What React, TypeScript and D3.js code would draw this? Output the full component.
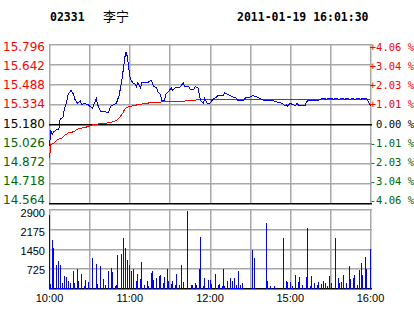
import React from 'react';
import * as d3 from 'd3';

const stockCode = '02331';
const stockName = '李宁';
const stamp = '2011-01-19 16:01:30';

const priceTicks = [15.796, 15.642, 15.488, 15.334, 15.18, 15.026, 14.872, 14.718, 14.564];
const priceTickLabels = ['15.796', '15.642', '15.488', '15.334', '15.180', '15.026', '14.872', '14.718', '14.564'];
const pctTickLabels = ['+4.06 %', '+3.04 %', '+2.03 %', '+1.01 %', '0.00 %', '-1.01 %', '-2.03 %', '-3.04 %', '-4.06 %'];
const volTicks = [2900, 2175, 1450, 725];
const timeTickMinutes = [0, 60, 120, 180, 240];
const timeTickLabels = ['10:00', '11:00', '12:00', '15:00', '16:00'];
const gridMinutes = [0, 30, 60, 90, 120, 150, 180, 210, 240];
const prevClose = 15.18;

const priceMinutes = [0, 1, 2, 3, 6, 7, 8, 10, 11, 13, 14, 16, 18, 19, 21, 23, 24, 26, 29, 30, 32, 34, 35, 36, 38, 44, 46, 48, 50, 52, 54, 55, 56, 57, 58, 59, 60, 61, 63, 64, 65, 66, 68, 69, 73, 75, 76, 78, 80, 81, 83, 84, 86, 87, 89, 91, 92, 94, 96, 98, 100, 101, 104, 105, 108, 109, 111, 112, 113, 115, 116, 118, 120, 122, 125, 126, 130, 131, 133, 135, 137, 140, 141, 145, 146, 150, 152, 155, 157, 159, 161, 167, 170, 174, 176, 177, 178, 180, 182, 184, 185, 187, 191, 192, 193, 201, 202, 205, 207, 208, 211, 212, 214, 217, 218, 221, 222, 225, 226, 229, 230, 233, 234, 237, 238, 239, 240];
const priceValues = [15.01, 15.13, 15.10, 15.12, 15.14, 15.14, 15.22, 15.23, 15.29, 15.36, 15.41, 15.44, 15.41, 15.37, 15.34, 15.36, 15.33, 15.34, 15.33, 15.32, 15.30, 15.35, 15.38, 15.33, 15.28, 15.27, 15.32, 15.33, 15.34, 15.40, 15.51, 15.59, 15.67, 15.74, 15.71, 15.64, 15.55, 15.52, 15.49, 15.49, 15.47, 15.50, 15.46, 15.50, 15.50, 15.51, 15.52, 15.47, 15.46, 15.43, 15.41, 15.36, 15.36, 15.41, 15.43, 15.46, 15.44, 15.46, 15.46, 15.47, 15.50, 15.47, 15.47, 15.45, 15.45, 15.47, 15.46, 15.41, 15.36, 15.34, 15.38, 15.34, 15.34, 15.37, 15.39, 15.40, 15.40, 15.42, 15.41, 15.40, 15.39, 15.38, 15.36, 15.36, 15.38, 15.39, 15.40, 15.39, 15.38, 15.37, 15.36, 15.36, 15.35, 15.34, 15.32, 15.33, 15.32, 15.34, 15.33, 15.32, 15.34, 15.32, 15.32, 15.35, 15.36, 15.36, 15.37, 15.38, 15.37, 15.38, 15.38, 15.37, 15.38, 15.37, 15.38, 15.37, 15.38, 15.37, 15.38, 15.37, 15.38, 15.37, 15.38, 15.38, 15.36, 15.34, 15.32];

const avgMinutes = [0, 1, 3, 4, 6, 9, 11, 14, 18, 21, 25, 29, 31, 34, 39, 44, 49, 51, 53, 55, 56, 58, 61, 65, 70, 75, 85, 100, 108, 113, 240];
const avgValues = [14.92, 15.02, 15.03, 15.04, 15.06, 15.07, 15.09, 15.11, 15.12, 15.14, 15.15, 15.16, 15.17, 15.176, 15.184, 15.189, 15.202, 15.215, 15.24, 15.267, 15.292, 15.31, 15.318, 15.327, 15.337, 15.344, 15.352, 15.357, 15.364, 15.37, 15.372];

const volMinutes = [0, 1, 2, 3, 5, 7, 8, 10, 11, 13, 14, 16, 18, 19, 21, 22, 24, 26, 27, 29, 32, 35, 36, 38, 40, 42, 44, 46, 47, 49, 50, 51, 54, 55, 57, 58, 60, 61, 63, 65, 66, 68, 69, 71, 73, 74, 76, 77, 78, 80, 82, 83, 85, 86, 88, 89, 91, 92, 94, 95, 97, 99, 100, 103, 106, 107, 109, 110, 112, 113, 115, 116, 119, 120, 121, 124, 126, 127, 129, 130, 131, 133, 135, 137, 138, 140, 141, 143, 144, 152, 153, 162, 163, 165, 168, 175, 177, 178, 180, 182, 184, 186, 187, 189, 192, 193, 195, 196, 198, 200, 201, 203, 205, 206, 208, 209, 211, 214, 216, 217, 218, 220, 222, 224, 225, 227, 228, 230, 232, 233, 234, 236, 237, 240];
const volValues = [2680, 150, 1770, 1500, 880, 1000, 860, 190, 460, 410, 270, 190, 640, 190, 710, 270, 530, 90, 310, 240, 1110, 890, 170, 820, 350, 130, 640, 750, 600, 90, 130, 1220, 1260, 1840, 1480, 1040, 860, 640, 710, 270, 530, 350, 970, 130, 270, 90, 570, 640, 310, 380, 460, 490, 200, 420, 710, 270, 160, 270, 130, 530, 130, 860, 240, 2830, 130, 130, 200, 130, 710, 1880, 90, 380, 310, 310, 160, 530, 130, 160, 90, 710, 90, 270, 380, 270, 380, 130, 640, 130, 200, 1400, 1110, 2390, 270, 90, 90, 1840, 270, 240, 240, 90, 490, 240, 420, 130, 420, 2210, 90, 460, 200, 130, 240, 160, 270, 200, 90, 460, 200, 1840, 380, 200, 240, 490, 200, 820, 350, 380, 490, 130, 680, 930, 490, 1150, 710, 1450];

const RED = '#ff0000';
const GREEN = '#006600';
const GRID = '#a8a8a8';

export default function App() {
  const x = d3.scaleLinear().domain([0, 240]).range([49.5, 370.5]);
  const yP = d3.scaleLinear().domain([14.564, 15.796]).range([203.5, 44.5]);
  const yV = d3.scaleLinear().domain([0, 2900]).range([288.5, 209.5]);
  const labelY = d3.scaleLinear().domain([0, 8]).range([51, 204]);
  const volLabelY = d3.scaleLinear().domain([0, 3]).range([217, 274]);
  const snap = (v: number) => Math.floor(v) + 0.5;

  const priceLine = d3.line<number>().x((_, i) => x(priceMinutes[i])).y((d) => yP(d));
  const avgLine = d3.line<number>().x((_, i) => x(avgMinutes[i])).y((d) => yP(d));

  const colorFor = (i: number) => (priceTicks[i] > prevClose ? RED : priceTicks[i] < prevClose ? GREEN : '#000');

  const vLines = gridMinutes.map((m) => snap(x(m)));
  const hPrice = priceTicks.map((t) => snap(yP(t)));
  const hVol = volTicks.map((t) => snap(yV(t)));

  return (
    <svg width={414} height={314} style={{ position: 'absolute', left: 0, top: 0, background: '#fff' }}>
      <rect x={0} y={0} width={414} height={314} fill="#ffffff" />
      <text x={50} y={21} fontFamily="'DejaVu Sans Mono', monospace" fontWeight="bold" fontSize={11.5}>{stockCode}</text>
      <text x={103} y={21} fontFamily="'Noto Sans CJK SC'" fontSize={13}>{stockName}</text>
      <text x={237} y={21} fontFamily="'DejaVu Sans Mono', monospace" fontWeight="bold" fontSize={11.5}>{stamp}</text>

      {vLines.map((vx, i) => (
        <rect key={'vp' + i} x={vx - 0.5} y={44} width={1.5} height={160} fill={GRID} />
      ))}
      {vLines.map((vx, i) => (
        <rect key={'vv' + i} x={vx - 0.5} y={209} width={1.5} height={80} fill={GRID} />
      ))}
      {hPrice.map((hy, i) => (
        <rect key={'hp' + i} x={49} y={hy - 0.5} width={323} height={1.5}
          fill={priceTicks[i] === prevClose || i === priceTicks.length - 1 ? '#000' : GRID} />
      ))}
      {hVol.map((hy, i) => (
        <rect key={'hv' + i} x={49} y={hy - 0.5} width={323} height={1.5} fill={GRID} />
      ))}
      <rect x={49} y={snap(yV(0)) - 0.5} width={323} height={1.5} fill="#000" />

      <g shapeRendering="crispEdges">
        {volMinutes.map((m, i) => (
          <line key={'b' + i} x1={snap(x(m))} x2={snap(x(m))} y1={yV(0)} y2={Math.round(yV(volValues[i]))} stroke="#0000ff" />
        ))}
        <path d={avgLine(avgValues) || ''} fill="none" stroke={RED} strokeWidth={1} />
        <path d={priceLine(priceValues) || ''} fill="none" stroke="#0000ff" strokeWidth={1} />
      </g>

      {priceTickLabels.map((s, i) => (
        <text key={'pl' + i} x={45} y={labelY(i)} textAnchor="end" fontFamily="'DejaVu Sans', sans-serif" fontSize={12} fill={colorFor(i)}>{s}</text>
      ))}
      {pctTickLabels.map((s, i) => (
        <text key={'rl' + i} x={414} y={labelY(i)} textAnchor="end" fontFamily="'DejaVu Sans Mono', monospace" fontSize={10.5} fill={colorFor(i)}>{s}</text>
      ))}
      {volTicks.map((t, i) => (
        <text key={'vl' + t} x={45} y={volLabelY(i)} textAnchor="end" fontFamily="'Liberation Sans', Arial, sans-serif" fontSize={11} fill="#000">{t}</text>
      ))}
      {timeTickMinutes.map((m, i) => (
        <text key={'tl' + m} x={x(m)} y={302} textAnchor="middle" fontFamily="'Liberation Sans', Arial, sans-serif" fontSize={11} fill="#000">{timeTickLabels[i]}</text>
      ))}
    </svg>
  );
}
